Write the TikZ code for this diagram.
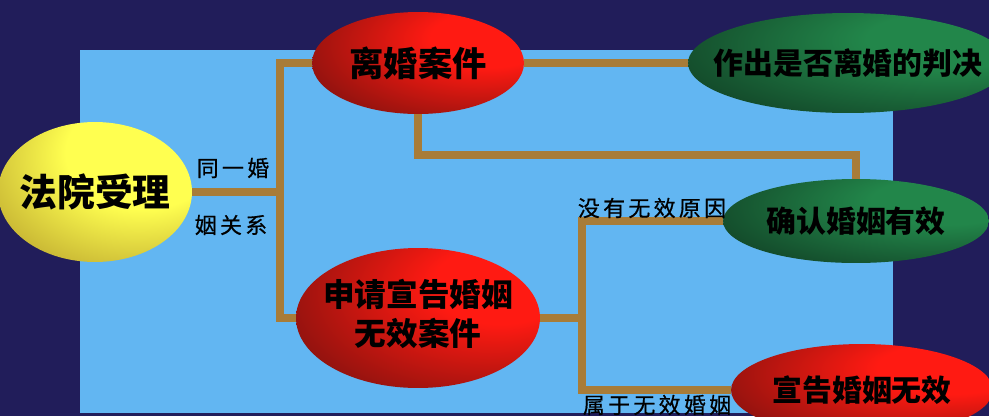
\documentclass[tikz,border=0pt]{standalone}
\usepackage{fontspec}
\usepackage{tikz}
\usetikzlibrary{shapes.geometric,backgrounds}
\newfontfamily\cjk{Noto Sans CJK SC}
\newfontfamily\cjktag{Noto Sans CJK SC}[LetterSpace=15,FakeBold=0.6]
\definecolor{night}{HTML}{211D5A}
\definecolor{sky}{HTML}{62B6F2}
\definecolor{rope}{HTML}{A87C38}
\definecolor{hotred}{HTML}{FF1A12}
\definecolor{deepred}{HTML}{4A0E0C}
\definecolor{leaf}{HTML}{22864A}
\definecolor{deepleaf}{HTML}{0A2416}
\definecolor{sun}{HTML}{FFFF50}
\definecolor{deepsun}{HTML}{8A6414}
\pgfdeclareradialshading{redglow}{\pgfpoint{20bp}{14bp}}{color(0bp)=(hotred); color(14bp)=(hotred); color(56bp)=(deepred); color(90bp)=(deepred)}
\pgfdeclareradialshading{greenglow}{\pgfpoint{20bp}{14bp}}{color(0bp)=(leaf); color(14bp)=(leaf); color(56bp)=(deepleaf); color(90bp)=(deepleaf)}
\pgfdeclareradialshading{sunglow}{\pgfpoint{16bp}{18bp}}{color(0bp)=(sun); color(20bp)=(sun); color(62bp)=(deepsun); color(90bp)=(deepsun)}
\newcommand{\ctext}[1]{\makebox[0pt]{#1}}

\begin{document}
\begin{tikzpicture}[
  x=0.02cm, y=-0.02cm,
  bubble/.style={ellipse, inner sep=0pt, font=\cjk\bfseries\fontsize{#1}{22}\selectfont},
  redbub/.style={shading=redglow},
  greenbub/.style={shading=greenglow},
  sunbub/.style={shading=sunglow},
  link/.style={draw=rope, line width=4.6pt},
  tag/.style={inner sep=0pt, font=\cjktag\fontsize{12.5}{15}\selectfont}
]
\useasboundingbox (0,0) rectangle (989,416);
\node[bubble=21.5, sunbub, minimum width=3.88cm, minimum height=2.8cm] (fayuan) at (95,192) {\ctext{法院受理}};
\node[bubble=19.5, redbub, minimum width=4.24cm, minimum height=2.04cm] (lihun) at (418,63) {\ctext{离婚案件}};
\node[bubble=17, greenbub, minimum width=6.4cm, minimum height=2cm] (panjue) at (848,63) {\ctext{作出是否离婚的判决}};
\node[bubble=17, greenbub, minimum width=5.32cm, minimum height=1.68cm] (queren) at (856,221) {\ctext{确认婚姻有效}};
\node[bubble=18, redbub, minimum width=4.88cm, minimum height=2.8cm] (shenqing) at (418,318) {\ctext{\begin{tabular}{@{}c@{}}申请宣告婚姻\\无效案件\end{tabular}}};
\node[bubble=17, redbub, minimum width=5.24cm, minimum height=1.84cm] (xuangao) at (862,390) {\ctext{宣告婚姻无效}};
\node[tag] (same1) at (233,168) {同一婚};
\node[tag] (same2) at (231,225) {姻关系};
\node[tag] (nocause) at (652,208) {没有无效原因};
\node[tag] (isvoid) at (657,405) {属于无效婚姻};
\coordinate (fork1) at (280,192);
\coordinate (fork2) at (582,318);
\begin{scope}[on background layer]
  \fill[night] (0,0) rectangle (989,416);
  \fill[sky] (80,50) rectangle (893,413);
  \draw[link] (fayuan.east) -- (fork1);
  \draw[link] (lihun.west) -| (fork1) |- (shenqing.west);
  \draw[link] (lihun.east) -- (panjue.west);
  \draw[link] (lihun.south) -- ++(0,41) -| (queren.north);
  \draw[link] (shenqing.east) -- (fork2);
  \draw[link] (queren.west) -| (fork2) |- (xuangao.west);
\end{scope}
\end{tikzpicture}
\end{document}
